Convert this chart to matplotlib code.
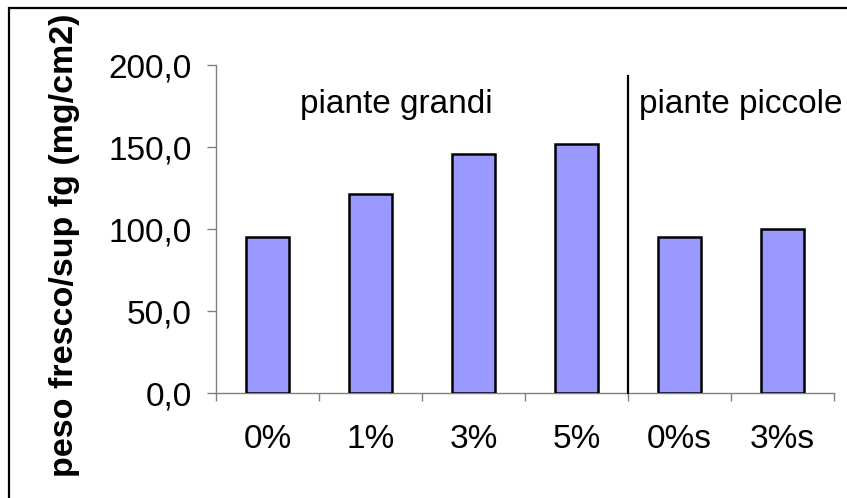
import matplotlib.pyplot as plt
from matplotlib.patches import Rectangle
import numpy as np

plt.rcParams['font.family'] = ['Liberation Sans', 'DejaVu Sans']

categorie = ['0%', '1%', '3%', '5%', '0%s', '3%s']
peso = [95.4, 121.4, 145.6, 151.9, 95.4, 100.3]
yticks = [0, 50, 100, 150, 200]
ylabels = ['0,0', '50,0', '100,0', '150,0', '200,0']

grigio = '#808080'
fs = 24

fig = plt.figure(figsize=(8.47, 4.98), dpi=100)
ax = fig.add_axes([216 / 847, 1 - 393.3 / 498, 618 / 847, 328.3 / 498])

x = np.arange(len(categorie))
ax.bar(x, peso, width=0.42, color='#9999ff', edgecolor='black', linewidth=1.8, zorder=3)

ax.set_xlim(-0.5, len(categorie) - 0.5)
ax.set_ylim(0, 200)

# etichette al centro, tacche ai bordi delle categorie
ax.set_xticks(x)
ax.set_xticklabels(categorie, fontsize=fs)
ax.tick_params(axis='x', which='major', length=0, pad=22)
ax.set_xticks(np.arange(len(categorie) + 1) - 0.5, minor=True)
ax.tick_params(axis='x', which='minor', length=6, width=1, color=grigio, direction='out')

ax.set_yticks(yticks)
ax.set_yticklabels(ylabels, fontsize=fs)
ax.tick_params(axis='y', length=6.5, width=1, color=grigio, pad=11)

for s in ['top', 'right']:
    ax.spines[s].set_visible(False)
for s in ['left', 'bottom']:
    ax.spines[s].set_color(grigio)
    ax.spines[s].set_linewidth(1)

# separazione tra i due gruppi di piante
ax.plot([3.5, 3.5], [0, 193.3], color='black', lw=1.6, clip_on=False, zorder=4)
ax.text(1.25, 170.8, 'piante grandi', fontsize=fs, ha='center', va='baseline')
ax.text(3.61, 170.8, 'piante piccole', fontsize=fs, ha='left', va='baseline', clip_on=False)

fig.text(65 / 847, 1 - 245 / 498, 'peso fresco/sup fg (mg/cm2)', fontsize=24.5,
         fontweight='bold', rotation=90, ha='center', va='center')

# cornice del grafico
fig.patches.append(Rectangle((9 / 847, -0.2), 1.2, 1.2 - 8 / 498,
                             transform=fig.transFigure, fill=False,
                             edgecolor='black', linewidth=1.6))

fig.savefig('out.png', dpi=100)
